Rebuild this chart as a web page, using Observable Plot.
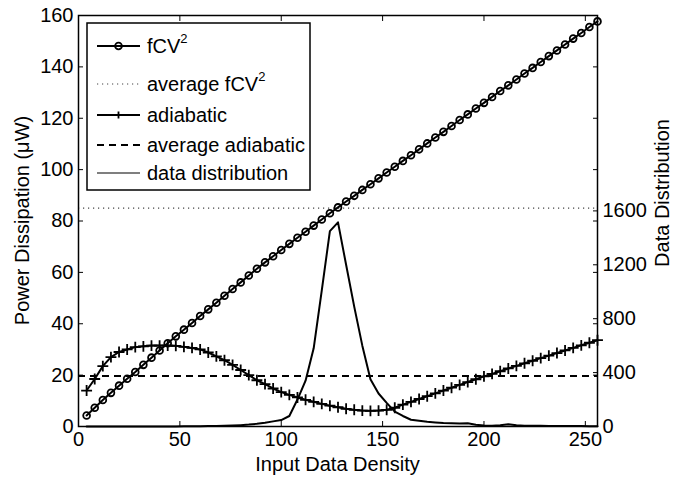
<!DOCTYPE html>
<html><head><meta charset="utf-8">
<script src="https://cdn.jsdelivr.net/npm/d3@7"></script>
<script src="https://cdn.jsdelivr.net/npm/@observablehq/plot@0.6"></script>
<style>body{margin:0;background:#fff;} svg{display:block}</style>
</head><body><div id="chart"></div>
<script>
// ---- data ----
const density = [4,8,12,16,20,24,28,32,36,40,44,48,52,56,60,64,68,72,76,80,84,88,92,96,100,104,108,112,116,120,124,128,132,136,140,144,148,152,156,160,164,168,172,176,180,184,188,192,196,200,204,208,212,216,220,224,228,232,236,240,244,248,252,256];
const fcv2 = [4.3,7.3,10.3,13.1,15.9,18.6,21.2,24.0,26.8,29.6,32.4,35.1,37.7,40.3,43.0,45.6,48.2,50.9,53.5,56.1,58.8,61.4,63.9,66.3,68.7,71.1,73.5,75.8,78.2,80.6,83.0,85.3,87.6,89.8,92.1,94.3,96.6,98.9,101.1,103.4,105.6,107.9,110.2,112.5,114.7,117.0,119.3,121.5,123.8,126.0,128.3,130.6,132.8,135.1,137.4,139.6,141.9,144.2,146.4,148.7,151.0,153.2,155.5,157.7];
const adiabatic = [14.0,18.5,23.5,27.0,29.0,30.0,30.9,31.2,31.5,31.5,31.5,31.4,31.0,30.6,30.0,28.8,27.3,25.8,24.0,22.0,20.0,18.0,16.5,14.8,13.4,12.3,11.3,10.4,9.6,8.8,8.1,7.5,6.9,6.5,6.2,6.1,6.2,6.5,7.3,8.5,9.6,10.7,11.8,12.9,14.0,15.1,16.2,17.3,18.4,19.5,20.5,21.5,22.6,23.6,24.6,25.6,26.6,27.6,28.6,29.6,30.6,31.6,32.6,33.6];
const distribution = [0,0,0,0,0,0,0,0,0,0,0,0,1,1,2,3,4,5,7,10,14,20,28,38,48,78,200,340,580,1010,1450,1515,1200,890,600,350,245,175,110,78,50,42,35,30,26,24,22,24,13,8,6,10,16,9,6,5,5,4,4,3,3,3,2,2];
const avgFcv2 = 85;
const avgAdiabatic = 19.7;
const xTicks = [0,50,100,150,200,250];
const yTicks = [0,20,40,60,80,100,120,140,160];
const y2Ticks = [0,400,800,1200,1600];
const xMax = 256, yMax = 160, y2Max = 3050;
const xTitle = "Input Data Density";
const yTitle = "Power Dissipation (\u03bcW)";
const y2Title = "Data Distribution";

// ---- chart ----
const k = yMax / y2Max; // right axis -> left axis units
const rows = density.map((x, i) => ({x, f: fcv2[i], a: adiabatic[i], d: distribution[i] * k}));

const W = 680, H = 477, mL = 78, mR = 83, mT = 15, mB = 51;
const FONT = "'Liberation Sans', Arial, Helvetica, sans-serif";
const FS = 20;

const plot = Plot.plot({
  width: W, height: H,
  marginLeft: mL, marginRight: mR, marginTop: mT, marginBottom: mB,
  style: {fontFamily: FONT, fontSize: FS + "px", color: "#000", background: "#fff", overflow: "visible"},
  x: {domain: [0, xMax]},
  y: {domain: [0, yMax]},
  marks: [
    Plot.ruleY([avgFcv2], {stroke: "#444", strokeWidth: 1.2, strokeDasharray: "1.2,3.8"}),
    Plot.ruleY([avgAdiabatic], {stroke: "#000", strokeWidth: 2, strokeDasharray: "7,5"}),
    Plot.line(rows, {x: "x", y: "d", stroke: "#000", strokeWidth: 2}),
    Plot.line(rows, {x: "x", y: "a", stroke: "#000", strokeWidth: 2}),
    Plot.dot(rows, {x: "x", y: "a", symbol: "plus", r: 3.6, stroke: "#000", strokeWidth: 1.8}),
    Plot.line(rows, {x: "x", y: "f", stroke: "#000", strokeWidth: 2}),
    Plot.dot(rows, {x: "x", y: "f", symbol: "circle", r: 3.4, stroke: "#000", strokeWidth: 1.8, fill: "none"}),
    Plot.axisX({ticks: xTicks, tickSize: 0, tickPadding: 5, label: null}),
    Plot.axisX({ticks: xTicks, tickSize: -5, tickFormat: () => "", label: null}),
    Plot.axisX({anchor: "top", ticks: xTicks, tickSize: -5, tickFormat: () => "", label: null}),
    Plot.axisY({ticks: yTicks, tickSize: 0, tickPadding: 5, label: null}),
    Plot.axisY({ticks: yTicks, tickSize: -5, tickFormat: () => "", label: null}),
    Plot.axisY({anchor: "right", ticks: yTicks, tickSize: -5, tickFormat: () => "", label: null}),
    Plot.axisY({anchor: "right", ticks: y2Ticks.map(v => v * k), tickSize: -5, tickFormat: () => "", label: null}),
    Plot.axisY({anchor: "right", ticks: y2Ticks.map(v => v * k), tickSize: 0, tickPadding: 5, tickFormat: v => String(Math.round(v / k)), label: null}),
    Plot.frame({stroke: "#000", strokeWidth: 1.5})
  ]
});

const svg = d3.select(plot);
// axis titles
svg.append("text").attr("transform", `translate(22,${(mT + H - mB) / 2}) rotate(-90)`)
  .attr("text-anchor", "middle").attr("dy", "0.35em").attr("font-size", FS).attr("fill", "#000").text(yTitle);
svg.append("text").attr("transform", `translate(662,193) rotate(-90)`)
  .attr("text-anchor", "middle").attr("dy", "0.35em").attr("font-size", FS).attr("fill", "#000").text(y2Title);
svg.append("text").attr("x", (mL + W - mR) / 2).attr("y", 464)
  .attr("text-anchor", "middle").attr("dy", "0.35em").attr("font-size", FS).attr("fill", "#000").text(xTitle);

// legend
const legendItems = [
  {label: "fCV", sup: "2", dash: null, width: 2, color: "#000", marker: "circle"},
  {label: "average fCV", sup: "2", dash: "1.2,3.8", width: 1.2, color: "#444", marker: null},
  {label: "adiabatic", sup: null, dash: null, width: 2, color: "#000", marker: "plus"},
  {label: "average adiabatic", sup: null, dash: "7,5", width: 2, color: "#000", marker: null},
  {label: "data distribution", sup: null, dash: null, width: 1.3, color: "#555", marker: null}
];
const legendRowY = [46, 84, 115, 145, 173];
const lg = svg.append("g");
lg.append("rect").attr("x", 87).attr("y", 23).attr("width", 223).attr("height", 167)
  .attr("fill", "#fff").attr("stroke", "#000").attr("stroke-width", 1.5);
legendItems.forEach((it, i) => {
  const cy = legendRowY[i];
  lg.append("line").attr("x1", 97).attr("x2", 140).attr("y1", cy).attr("y2", cy)
    .attr("stroke", it.color).attr("stroke-width", it.width)
    .attr("stroke-dasharray", it.dash);
  if (it.marker === "circle") {
    lg.append("circle").attr("cx", 118.5).attr("cy", cy).attr("r", 3.4)
      .attr("fill", "none").attr("stroke", "#000").attr("stroke-width", 1.8);
  } else if (it.marker === "plus") {
    lg.append("path").attr("d", `M${115},${cy}h7M${118.5},${cy - 3.5}v7`)
      .attr("stroke", "#000").attr("stroke-width", 1.8);
  }
  const t = lg.append("text").attr("x", 147).attr("y", cy).attr("dy", "0.35em")
    .attr("text-anchor", "start").attr("font-size", FS).attr("fill", "#000");
  t.append("tspan").text(it.label);
  if (it.sup) t.append("tspan").attr("font-size", 13).attr("dy", "-0.75em").text(it.sup);
});

document.getElementById("chart").appendChild(plot);
</script>
</body></html>
